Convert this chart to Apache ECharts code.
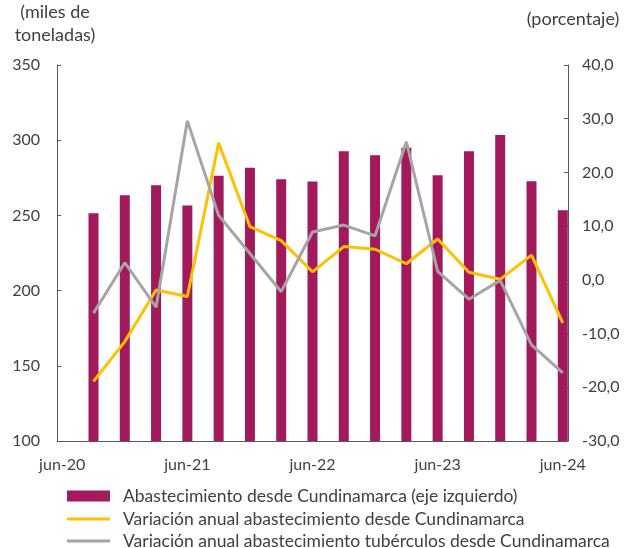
<!DOCTYPE html>
<html>
<head>
<meta charset="utf-8">
<script src="https://cdn.jsdelivr.net/npm/echarts@6/dist/echarts.min.js"></script>
<style>
  html, body { margin: 0; padding: 0; background: #fff; }
  #chart { width: 634px; height: 548px; }
</style>
</head>
<body>
<div id="chart"></div>
<script>
// eje mensual de jun-20 a jun-24, datos trimestrales
const monthNames = ['ene', 'feb', 'mar', 'abr', 'may', 'jun', 'jul', 'ago', 'sep', 'oct', 'nov', 'dic']
const months = []
for (let y = 2020, m = 5; months.length < 49; m++) {
  if (m === 12) { m = 0; y++ }
  months.push(monthNames[m] + '-' + String(y).slice(2))
}

const quarters = ['sep-20', 'dic-20', 'mar-21', 'jun-21', 'sep-21', 'dic-21', 'mar-22', 'jun-22',
  'sep-22', 'dic-22', 'mar-23', 'jun-23', 'sep-23', 'dic-23', 'mar-24', 'jun-24']

// miles de toneladas
const abastecimiento = [251.4, 263.4, 270, 256.5, 276.4, 281.7, 274, 272.5,
  292.6, 290, 295, 276.7, 292.6, 303.5, 272.7, 253.4]

// porcentaje
const variacionAbast = [-18.9, -11.5, -1.9, -3.1, 25.5, 9.9, 7.3, 1.5,
  6.2, 5.7, 3.0, 7.6, 1.4, 0.1, 4.6, -8.0]
const variacionTuberculos = [-6.2, 3.2, -5.1, 29.6, 12.0, 4.9, -2.2, 8.9,
  10.2, 8.2, 25.7, 1.6, -3.6, -0.1, -12.1, -17.3]

const names = [
  'Abastecimiento desde Cundinamarca (eje izquierdo)',
  'Variación anual abastecimiento desde Cundinamarca',
  'Variación anual abastecimiento tubérculos desde Cundinamarca'
]

const pairs = vals => quarters.map((q, i) => [q, vals[i]])

const textColor = '#404040'
const axisColor = '#595959'
const font = 'Lato, "Open Sans", sans-serif'
const showYear = i => i % 12 === 0

// una leyenda por fila para que no se parta en columnas
const legendRow = (name, top, h) => ({
  orient: 'vertical',
  left: 67,
  top: top,
  padding: 0,
  itemWidth: 43,
  itemHeight: h,
  icon: 'rect',
  textStyle: { fontSize: 17.5, color: textColor, fontFamily: font, padding: [0, 0, 0, 8] },
  data: [name]
})

const chart = echarts.init(document.getElementById('chart'))
chart.setOption({
  animation: false,
  textStyle: { fontFamily: font },
  grid: { left: 57, right: 66, top: 65, bottom: 107 },
  graphic: [
    { type: 'text', x: 55, y: 1, style: { text: '(miles de\ntoneladas)', font: '18px ' + font, fill: textColor, lineHeight: 23, align: 'center' } },
    { type: 'text', x: 573, y: 10, style: { text: '(porcentaje)', font: '18px ' + font, fill: textColor, align: 'center' } }
  ],
  legend: [
    legendRow(names[0], 487, 11),
    legendRow(names[1], 510, 3),
    legendRow(names[2], 532, 3)
  ],
  xAxis: {
    type: 'category',
    data: months,
    boundaryGap: true,
    axisLine: { onZero: false, lineStyle: { color: axisColor } },
    axisTick: { inside: true, length: 4, interval: showYear, lineStyle: { color: axisColor } },
    axisLabel: { interval: showYear, margin: 16, fontSize: 16, color: textColor }
  },
  yAxis: [
    {
      type: 'value',
      min: 100,
      max: 350,
      interval: 50,
      splitLine: { show: false },
      axisLine: { show: true, lineStyle: { color: axisColor } },
      axisTick: { show: true, inside: true, length: 4, lineStyle: { color: axisColor } },
      axisLabel: { margin: 17, fontSize: 16, color: textColor }
    },
    {
      type: 'value',
      min: -30,
      max: 40,
      interval: 10,
      splitLine: { show: false },
      axisLine: { show: true, lineStyle: { color: axisColor } },
      axisTick: { show: true, inside: true, length: 4, lineStyle: { color: axisColor } },
      axisLabel: {
        margin: 14,
        fontSize: 16,
        color: textColor,
        formatter: v => v.toFixed(1).replace('.', ',')
      }
    }
  ],
  series: [
    {
      name: names[0],
      type: 'bar',
      yAxisIndex: 0,
      barWidth: 10,
      itemStyle: { color: '#A21A5C' },
      data: pairs(abastecimiento)
    },
    {
      name: names[1],
      type: 'line',
      yAxisIndex: 1,
      symbol: 'none',
      lineStyle: { color: '#FFC000', width: 3 },
      itemStyle: { color: '#FFC000' },
      data: pairs(variacionAbast)
    },
    {
      name: names[2],
      type: 'line',
      yAxisIndex: 1,
      symbol: 'none',
      lineStyle: { color: '#A5A5A5', width: 3 },
      itemStyle: { color: '#A5A5A5' },
      data: pairs(variacionTuberculos)
    }
  ]
})
</script>
</body>
</html>
